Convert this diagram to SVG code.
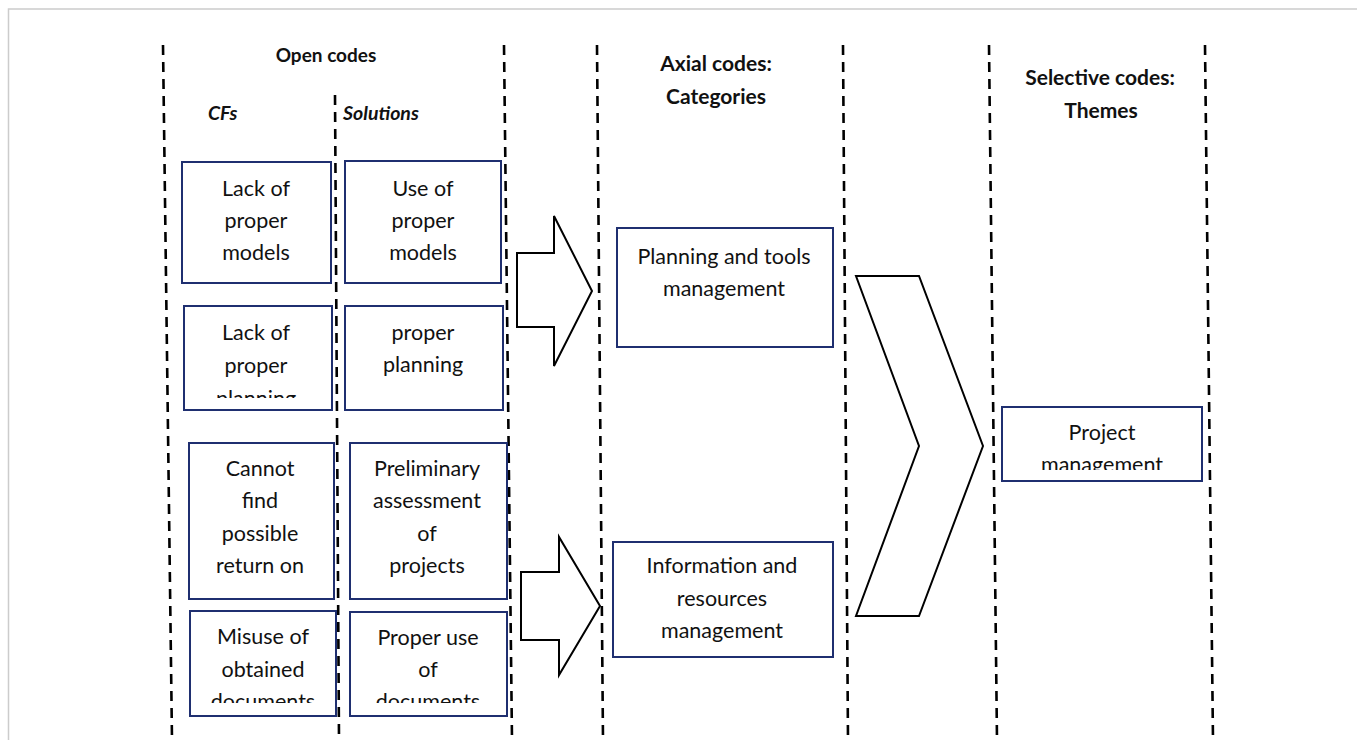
<svg xmlns="http://www.w3.org/2000/svg" width="1357" height="740" viewBox="0 0 1357 740">
<style>
.frame{fill:none;stroke:#cccccc;stroke-width:1.5}
.div{fill:none;stroke:#000;stroke-width:2.6;stroke-dasharray:10 7}
.box{fill:#fff;stroke:#1f2f70;stroke-width:2}
.arr{fill:#fff;stroke:#000;stroke-width:2;stroke-linejoin:miter}
.t{font-family:Lato,"Liberation Sans",sans-serif;font-size:21.5px;fill:#111;text-anchor:middle}
.h{font-family:Lato,"Liberation Sans",sans-serif;font-size:21px;font-weight:bold;fill:#111;text-anchor:middle}
.ho{font-size:19px}
.hi{font-family:Lato,"Liberation Sans",sans-serif;font-size:19.5px;font-weight:bold;font-style:italic;fill:#111}
</style>
<defs>
<clipPath id="c3"><rect x="184" y="306" width="148" height="92"/></clipPath>
<clipPath id="c7"><rect x="190" y="611" width="146" height="92"/></clipPath>
<clipPath id="c8"><rect x="350" y="612" width="157" height="91"/></clipPath>
<clipPath id="c9"><rect x="1002" y="407" width="200" height="63"/></clipPath>
</defs>
<rect width="1357" height="740" fill="#fff"/>
<path class="frame" d="M8.5,740 V9 H1357"/>
<g id="dividers">
<line class="div" x1="163" y1="45" x2="172" y2="740"/>
<line class="div" x1="335" y1="95" x2="339" y2="740"/>
<line class="div" x1="504" y1="45" x2="512" y2="740"/>
<line class="div" x1="597" y1="45" x2="603" y2="740"/>
<line class="div" x1="843" y1="45" x2="848" y2="740"/>
<line class="div" x1="989" y1="45" x2="997" y2="740"/>
<line class="div" x1="1205" y1="45" x2="1213" y2="740"/>
</g>
<g id="headers">
<text class="h ho" x="326" y="62">Open codes</text>
<text class="hi" x="208" y="120">CFs</text>
<text class="hi" x="343" y="120">Solutions</text>
<text class="h" x="716" y="71">Axial codes:</text>
<text class="h" x="716" y="104">Categories</text>
<text class="h" x="1100" y="85">Selective codes:</text>
<text class="h" x="1101" y="118">Themes</text>
</g>
<g id="connectors">
<polygon class="arr" points="517,253 554,253 554,216 592,291 554,366 554,327 517,327"/>
<polygon class="arr" points="521,572 559,572 559,537 600,606 559,675 559,640 521,640"/>
<polygon class="arr" points="856,276 919,276 983,446 919,616 856,616 919,446"/>
</g>
<g id="n1"><rect class="box" x="182" y="162" width="149" height="121"/>
<text class="t" x="256" y="196">Lack of</text><text class="t" x="256" y="228">proper</text><text class="t" x="256" y="260">models</text></g>
<g id="n2"><rect class="box" x="345" y="161" width="156" height="122"/>
<text class="t" x="423" y="196">Use of</text><text class="t" x="423" y="228">proper</text><text class="t" x="423" y="260">models</text></g>
<g id="n3"><rect class="box" x="184" y="306" width="148" height="104"/>
<g clip-path="url(#c3)"><text class="t" x="256" y="340">Lack of</text><text class="t" x="256" y="373">proper</text><text class="t" x="256" y="406">planning</text></g></g>
<g id="n4"><rect class="box" x="345" y="306" width="158" height="104"/>
<text class="t" x="423" y="340">proper</text><text class="t" x="423" y="372">planning</text></g>
<g id="n5"><rect class="box" x="189" y="443" width="145" height="156"/>
<text class="t" x="260" y="476">Cannot</text><text class="t" x="260" y="508">find</text><text class="t" x="260" y="541">possible</text><text class="t" x="260" y="573">return on</text></g>
<g id="n6"><rect class="box" x="350" y="443" width="157" height="156"/>
<text class="t" x="427" y="476">Preliminary</text><text class="t" x="427" y="508">assessment</text><text class="t" x="427" y="541">of</text><text class="t" x="427" y="573">projects</text></g>
<g id="n7"><rect class="box" x="190" y="611" width="146" height="105"/>
<g clip-path="url(#c7)"><text class="t" x="263" y="644">Misuse of</text><text class="t" x="263" y="677">obtained</text><text class="t" x="263" y="709">documents</text></g></g>
<g id="n8"><rect class="box" x="350" y="612" width="157" height="104"/>
<g clip-path="url(#c8)"><text class="t" x="428" y="645">Proper use</text><text class="t" x="428" y="677">of</text><text class="t" x="428" y="709">documents</text></g></g>
<g id="n9"><rect class="box" x="617" y="228" width="216" height="119"/>
<text class="t" x="724" y="264">Planning and tools</text><text class="t" x="724" y="296">management</text></g>
<g id="n10"><rect class="box" x="613" y="542" width="220" height="115"/>
<text class="t" x="722" y="573">Information and</text><text class="t" x="722" y="606">resources</text><text class="t" x="722" y="638">management</text></g>
<g id="n11"><rect class="box" x="1002" y="407" width="200" height="74"/>
<g clip-path="url(#c9)"><text class="t" x="1102" y="440">Project</text><text class="t" x="1102" y="472">management</text></g></g>
</svg>
